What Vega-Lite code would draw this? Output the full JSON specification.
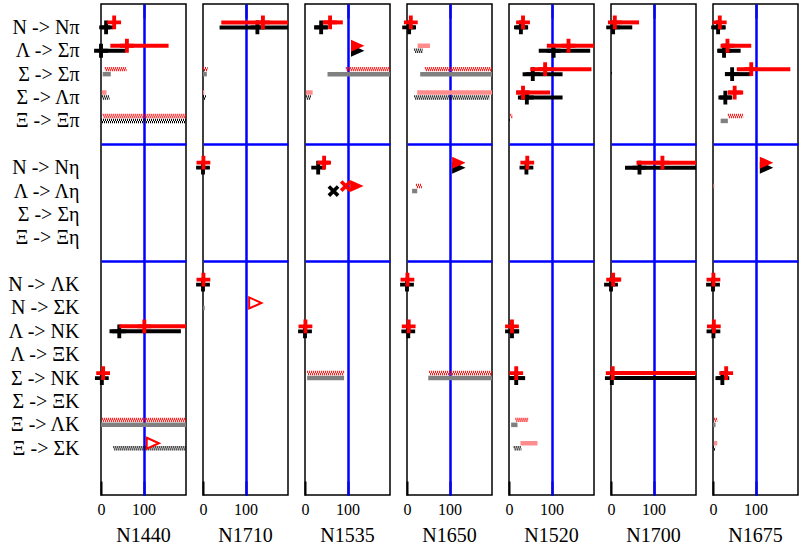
{
"$schema": "https://vega.github.io/schema/vega-lite/v6.json",
"padding": {"left": 7, "top": 3, "right": 1, "bottom": 0},
"bounds": "flush",
"data": {"values": [
{"r":"N1440","c":"N -> Nπ","s":"b","k":"bar","lo":0,"hi":22,"v":12},
{"r":"N1440","c":"N -> Nπ","s":"r","k":"pt","v":31},
{"r":"N1440","c":"Λ -> Σπ","s":"b","k":"bar","lo":0,"hi":58,"v":0},
{"r":"N1440","c":"Λ -> Σπ","s":"r","k":"bar","lo":22,"hi":159,"v":61},
{"r":"N1440","c":"Σ -> Σπ","s":"r","k":"chk","lo":9,"hi":60},
{"r":"N1440","c":"Σ -> Σπ","s":"b","k":"sol","lo":4,"hi":23},
{"r":"N1440","c":"Σ -> Λπ","s":"r","k":"sol","lo":2,"hi":13},
{"r":"N1440","c":"Σ -> Λπ","s":"b","k":"chk","lo":2,"hi":20},
{"r":"N1440","c":"Ξ -> Ξπ","s":"r","k":"chk","lo":4,"hi":200},
{"r":"N1440","c":"Ξ -> Ξπ","s":"b","k":"chk","lo":0,"hi":200},
{"r":"N1440","c":"Λ -> NK","s":"b","k":"bar","lo":20,"hi":188,"v":43},
{"r":"N1440","c":"Λ -> NK","s":"r","k":"bar","lo":43,"hi":200,"v":102},
{"r":"N1440","c":"Σ -> NK","s":"b","k":"pt","v":2},
{"r":"N1440","c":"Σ -> NK","s":"r","k":"pt","v":5},
{"r":"N1440","c":"Ξ -> ΛK","s":"r","k":"chk","lo":2,"hi":200},
{"r":"N1440","c":"Ξ -> ΛK","s":"b","k":"sol","lo":0,"hi":200},
{"r":"N1440","c":"Ξ -> ΣK","s":"b","k":"chk","lo":29,"hi":200},
{"r":"N1440","c":"Ξ -> ΣK","s":"r","k":"tro","v":122},
{"r":"N1710","c":"N -> Nπ","s":"b","k":"bar","lo":39,"hi":200,"v":128},
{"r":"N1710","c":"N -> Nπ","s":"r","k":"bar","lo":43,"hi":200,"v":141},
{"r":"N1710","c":"Σ -> Σπ","s":"r","k":"chk","lo":0,"hi":11},
{"r":"N1710","c":"Σ -> Σπ","s":"b","k":"sol","lo":0,"hi":9},
{"r":"N1710","c":"Σ -> Λπ","s":"r","k":"sol","lo":0,"hi":3},
{"r":"N1710","c":"Σ -> Λπ","s":"b","k":"chk","lo":0,"hi":7},
{"r":"N1710","c":"N -> Nη","s":"b","k":"pt","v":0},
{"r":"N1710","c":"N -> Nη","s":"r","k":"pt","v":1},
{"r":"N1710","c":"N -> ΛK","s":"b","k":"pt","v":0},
{"r":"N1710","c":"N -> ΛK","s":"r","k":"pt","v":1},
{"r":"N1710","c":"N -> ΣK","s":"b","k":"sol","lo":0,"hi":4},
{"r":"N1710","c":"N -> ΣK","s":"r","k":"tro","v":123},
{"r":"N1535","c":"N -> Nπ","s":"b","k":"bar","lo":22,"hi":53,"v":38},
{"r":"N1535","c":"N -> Nπ","s":"r","k":"bar","lo":42,"hi":89,"v":59},
{"r":"N1535","c":"Λ -> Σπ","s":"b","k":"tri","v":124},
{"r":"N1535","c":"Λ -> Σπ","s":"r","k":"tri","v":124},
{"r":"N1535","c":"Σ -> Σπ","s":"r","k":"chk","lo":96,"hi":200},
{"r":"N1535","c":"Σ -> Σπ","s":"b","k":"sol","lo":53,"hi":200},
{"r":"N1535","c":"Σ -> Λπ","s":"r","k":"sol","lo":2,"hi":18},
{"r":"N1535","c":"Σ -> Λπ","s":"b","k":"chk","lo":2,"hi":14},
{"r":"N1535","c":"N -> Nη","s":"b","k":"pt","v":31},
{"r":"N1535","c":"N -> Nη","s":"r","k":"bar","lo":36,"hi":58,"v":45},
{"r":"N1535","c":"Λ -> Λη","s":"b","k":"x","v":67},
{"r":"N1535","c":"Λ -> Λη","s":"r","k":"x","v":96},
{"r":"N1535","c":"Λ -> Λη","s":"r","k":"tri","v":122},
{"r":"N1535","c":"Λ -> NK","s":"b","k":"pt","v":0},
{"r":"N1535","c":"Λ -> NK","s":"r","k":"pt","v":1},
{"r":"N1535","c":"Σ -> NK","s":"r","k":"chk","lo":5,"hi":92},
{"r":"N1535","c":"Σ -> NK","s":"b","k":"sol","lo":5,"hi":92},
{"r":"N1650","c":"N -> Nπ","s":"b","k":"bar","lo":0,"hi":20,"v":5},
{"r":"N1650","c":"N -> Nπ","s":"r","k":"pt","v":9},
{"r":"N1650","c":"Λ -> Σπ","s":"r","k":"sol","lo":25,"hi":54},
{"r":"N1650","c":"Λ -> Σπ","s":"b","k":"chk","lo":17,"hi":37},
{"r":"N1650","c":"Σ -> Σπ","s":"r","k":"chk","lo":42,"hi":200},
{"r":"N1650","c":"Σ -> Σπ","s":"b","k":"sol","lo":31,"hi":200},
{"r":"N1650","c":"Σ -> Λπ","s":"r","k":"sol","lo":24,"hi":200},
{"r":"N1650","c":"Σ -> Λπ","s":"b","k":"chk","lo":17,"hi":194},
{"r":"N1650","c":"N -> Nη","s":"b","k":"tri","v":122},
{"r":"N1650","c":"N -> Nη","s":"r","k":"tri","v":122},
{"r":"N1650","c":"Λ -> Λη","s":"r","k":"chk","lo":21,"hi":35},
{"r":"N1650","c":"Λ -> Λη","s":"b","k":"sol","lo":12,"hi":24},
{"r":"N1650","c":"N -> ΛK","s":"b","k":"pt","v":0},
{"r":"N1650","c":"N -> ΛK","s":"r","k":"pt","v":1},
{"r":"N1650","c":"Λ -> NK","s":"b","k":"pt","v":3},
{"r":"N1650","c":"Λ -> NK","s":"r","k":"pt","v":4},
{"r":"N1650","c":"Σ -> NK","s":"r","k":"chk","lo":52,"hi":200},
{"r":"N1650","c":"Σ -> NK","s":"b","k":"sol","lo":50,"hi":200},
{"r":"N1520","c":"N -> Nπ","s":"b","k":"bar","lo":15,"hi":45,"v":28},
{"r":"N1520","c":"N -> Nπ","s":"r","k":"pt","v":33},
{"r":"N1520","c":"Λ -> Σπ","s":"b","k":"bar","lo":70,"hi":191,"v":105},
{"r":"N1520","c":"Λ -> Σπ","s":"r","k":"bar","lo":89,"hi":200,"v":140},
{"r":"N1520","c":"Σ -> Σπ","s":"b","k":"bar","lo":32,"hi":126,"v":56},
{"r":"N1520","c":"Σ -> Σπ","s":"r","k":"bar","lo":50,"hi":194,"v":85},
{"r":"N1520","c":"Σ -> Λπ","s":"b","k":"bar","lo":21,"hi":126,"v":42},
{"r":"N1520","c":"Σ -> Λπ","s":"r","k":"bar","lo":17,"hi":97,"v":33},
{"r":"N1520","c":"Ξ -> Ξπ","s":"r","k":"chk","lo":3,"hi":8},
{"r":"N1520","c":"Ξ -> Ξπ","s":"b","k":"chk","lo":0,"hi":2},
{"r":"N1520","c":"N -> Nη","s":"b","k":"pt","v":41},
{"r":"N1520","c":"N -> Nη","s":"r","k":"pt","v":43},
{"r":"N1520","c":"Λ -> NK","s":"b","k":"bar","lo":0,"hi":24,"v":7},
{"r":"N1520","c":"Λ -> NK","s":"r","k":"pt","v":7},
{"r":"N1520","c":"Σ -> NK","s":"b","k":"bar","lo":0,"hi":38,"v":17},
{"r":"N1520","c":"Σ -> NK","s":"r","k":"pt","v":17},
{"r":"N1520","c":"Ξ -> ΛK","s":"r","k":"chk","lo":15,"hi":45},
{"r":"N1520","c":"Ξ -> ΛK","s":"b","k":"sol","lo":5,"hi":20},
{"r":"N1520","c":"Ξ -> ΣK","s":"r","k":"sol","lo":27,"hi":67},
{"r":"N1520","c":"Ξ -> ΣK","s":"b","k":"chk","lo":11,"hi":29},
{"r":"N1700","c":"N -> Nπ","s":"b","k":"bar","lo":0,"hi":50,"v":5},
{"r":"N1700","c":"N -> Nπ","s":"r","k":"bar","lo":0,"hi":66,"v":9},
{"r":"N1700","c":"Σ -> Σπ","s":"b","k":"chk","lo":0,"hi":2},
{"r":"N1700","c":"N -> Nη","s":"b","k":"bar","lo":33,"hi":200,"v":67},
{"r":"N1700","c":"N -> Nη","s":"r","k":"bar","lo":60,"hi":200,"v":121},
{"r":"N1700","c":"N -> ΛK","s":"b","k":"pt","v":0},
{"r":"N1700","c":"N -> ΛK","s":"r","k":"bar","lo":0,"hi":24,"v":5},
{"r":"N1700","c":"Σ -> NK","s":"b","k":"bar","lo":0,"hi":200,"v":2},
{"r":"N1700","c":"Σ -> NK","s":"r","k":"bar","lo":0,"hi":200,"v":4},
{"r":"N1675","c":"N -> Nπ","s":"b","k":"bar","lo":0,"hi":30,"v":12},
{"r":"N1675","c":"N -> Nπ","s":"r","k":"pt","v":16},
{"r":"N1675","c":"Λ -> Σπ","s":"b","k":"bar","lo":12,"hi":65,"v":26},
{"r":"N1675","c":"Λ -> Σπ","s":"r","k":"bar","lo":22,"hi":90,"v":34},
{"r":"N1675","c":"Σ -> Σπ","s":"b","k":"bar","lo":28,"hi":90,"v":45},
{"r":"N1675","c":"Σ -> Σπ","s":"r","k":"bar","lo":56,"hi":182,"v":90},
{"r":"N1675","c":"Σ -> Λπ","s":"b","k":"bar","lo":16,"hi":43,"v":29},
{"r":"N1675","c":"Σ -> Λπ","s":"r","k":"bar","lo":35,"hi":71,"v":51},
{"r":"N1675","c":"Ξ -> Ξπ","s":"r","k":"chk","lo":35,"hi":71},
{"r":"N1675","c":"Ξ -> Ξπ","s":"b","k":"sol","lo":18,"hi":35},
{"r":"N1675","c":"N -> Nη","s":"b","k":"tri","v":126},
{"r":"N1675","c":"N -> Nη","s":"r","k":"tri","v":126},
{"r":"N1675","c":"Λ -> Λη","s":"r","k":"sol","lo":1,"hi":3},
{"r":"N1675","c":"N -> ΛK","s":"b","k":"pt","v":0},
{"r":"N1675","c":"N -> ΛK","s":"r","k":"pt","v":1},
{"r":"N1675","c":"Λ -> NK","s":"b","k":"pt","v":1},
{"r":"N1675","c":"Λ -> NK","s":"r","k":"pt","v":2},
{"r":"N1675","c":"Σ -> NK","s":"b","k":"bar","lo":8,"hi":35,"v":22},
{"r":"N1675","c":"Σ -> NK","s":"r","k":"pt","v":31},
{"r":"N1675","c":"Ξ -> ΛK","s":"r","k":"chk","lo":2,"hi":10},
{"r":"N1675","c":"Ξ -> ΛK","s":"b","k":"sol","lo":0,"hi":6},
{"r":"N1675","c":"Ξ -> ΣK","s":"r","k":"sol","lo":2,"hi":10},
{"r":"N1675","c":"Ξ -> ΣK","s":"b","k":"chk","lo":0,"hi":5}
]},
"facet": {"column": {"field": "r", "type": "nominal", "sort": ["N1440","N1710","N1535","N1650","N1520","N1700","N1675"],
  "header": {"title": null, "labelOrient": "bottom", "labelFont": "Liberation Serif", "labelFontSize": 20, "labelColor": "black", "labelPadding": 9}}},
"spacing": 17,
"spec": {
  "width": 85,
  "height": 491,
  "encoding": {
    "y": {"field": "c", "type": "nominal", "title": null,
      "scale": {"type": "point", "padding": 1, "domain": ["N -> Nπ","Λ -> Σπ","Σ -> Σπ","Σ -> Λπ","Ξ -> Ξπ","s1","N -> Nη","Λ -> Λη","Σ -> Ση","Ξ -> Ξη","s2","N -> ΛK","N -> ΣK","Λ -> NK","Λ -> ΞK","Σ -> NK","Σ -> ΞK","Ξ -> ΛK","Ξ -> ΣK","end"]},
      "axis": {"ticks": false, "domain": false, "labelFont": "Liberation Serif", "labelFontSize": 20, "labelColor": "black", "labelPadding": 22,
        "labelExpr": "datum.value == 's1' || datum.value == 's2' || datum.value == 'end' ? '' : datum.value",
        "grid": true, "gridColor": "#0000ff", "gridWidth": 2.5,
        "gridOpacity": {"condition": {"test": "datum.value == 's1' || datum.value == 's2'", "value": 1}, "value": 0}}}
  },
  "resolve": {"axis": {"x": "independent"}},
  "layer": [
    {"transform": [{"filter": "datum.s == 'b' && datum.k == 'sol'"}],
     "mark": {"type": "rule", "strokeWidth": 4.5, "color": "#808080"},
     "encoding": {
       "x": {"field": "lo", "type": "quantitative", "title": null, "scale": {"domain": [0, 200], "nice": false, "zero": false},
         "axis": {"orient": "bottom", "values": [0, 100], "labelFont": "Liberation Serif", "labelFontSize": 16, "labelColor": "black", "labelFlush": false, "domain": false,
           "tickSize": -14, "tickColor": "black", "tickWidth": 2, "labelPadding": 20,
           "grid": true, "gridColor": "#0000ff", "gridWidth": 2.5,
           "gridOpacity": {"condition": {"test": "datum.value == 100", "value": 1}, "value": 0}}},
       "x2": {"field": "hi"}}},
    {"transform": [{"filter": "datum.s == 'b' && datum.k == 'chk'"}],
     "mark": {"type": "rule", "strokeWidth": 2.25, "color": "black", "strokeDash": [1, 1], "yOffset": -1.1},
     "encoding": {
       "x": {"field": "lo", "type": "quantitative", "title": null,
         "axis": {"orient": "top", "values": [100], "labels": false, "domain": false, "grid": false, "tickSize": -14, "tickColor": "black", "tickWidth": 2}},
       "x2": {"field": "hi"}}},
    {"transform": [{"filter": "datum.s == 'b' && datum.k == 'chk'"}],
     "mark": {"type": "rule", "strokeWidth": 2.25, "color": "black", "strokeDash": [1, 1], "strokeDashOffset": 1, "yOffset": 1.1},
     "encoding": {"x": {"field": "lo", "type": "quantitative", "title": null, "axis": null}, "x2": {"field": "hi"}}},
    {"transform": [{"filter": "datum.s == 'r' && datum.k == 'sol'"}],
     "mark": {"type": "rule", "strokeWidth": 4.5, "color": "#ff8c8c", "yOffset": -5},
     "encoding": {"x": {"field": "lo", "type": "quantitative", "title": null, "axis": null}, "x2": {"field": "hi"}}},
    {"transform": [{"filter": "datum.s == 'r' && datum.k == 'chk'"}],
     "mark": {"type": "rule", "strokeWidth": 2.25, "color": "#ff0000", "strokeDash": [1, 1], "yOffset": -6.1},
     "encoding": {"x": {"field": "lo", "type": "quantitative", "title": null, "axis": null}, "x2": {"field": "hi"}}},
    {"transform": [{"filter": "datum.s == 'r' && datum.k == 'chk'"}],
     "mark": {"type": "rule", "strokeWidth": 2.25, "color": "#ff0000", "strokeDash": [1, 1], "strokeDashOffset": 1, "yOffset": -3.9},
     "encoding": {"x": {"field": "lo", "type": "quantitative", "title": null, "axis": null}, "x2": {"field": "hi"}}},
    {"transform": [{"filter": "datum.s == 'b' && datum.k == 'bar'"}],
     "mark": {"type": "rule", "strokeWidth": 4, "color": "black"},
     "encoding": {"x": {"field": "lo", "type": "quantitative", "title": null, "axis": null}, "x2": {"field": "hi"}}},
    {"transform": [{"filter": "datum.s == 'b' && (datum.k == 'bar' || datum.k == 'pt')"}],
     "mark": {"type": "point", "shape": "M-1,-0.28H1V0.28H-1Z M-0.28,-1H0.28V1H-0.28Z", "filled": true, "color": "black", "size": 190, "opacity": 1},
     "encoding": {"x": {"field": "v", "type": "quantitative", "title": null, "axis": null}}},
    {"transform": [{"filter": "datum.s == 'b' && datum.k == 'tri'"}],
     "mark": {"type": "point", "shape": "M-1,-0.9L1,0L-1,0.9Z", "filled": true, "color": "black", "size": 180, "opacity": 1},
     "encoding": {"x": {"field": "v", "type": "quantitative", "title": null, "axis": null}}},
    {"transform": [{"filter": "datum.s == 'b' && datum.k == 'x'"}],
     "mark": {"type": "point", "shape": "M-1,-0.28H1V0.28H-1Z M-0.28,-1H0.28V1H-0.28Z", "angle": 45, "filled": true, "color": "black", "size": 170, "opacity": 1},
     "encoding": {"x": {"field": "v", "type": "quantitative", "title": null, "axis": null}}},
    {"transform": [{"filter": "datum.s == 'r' && datum.k == 'bar'"}],
     "mark": {"type": "rule", "strokeWidth": 4, "color": "#ff0000", "yOffset": -5},
     "encoding": {"x": {"field": "lo", "type": "quantitative", "title": null, "axis": null}, "x2": {"field": "hi"}}},
    {"transform": [{"filter": "datum.s == 'r' && (datum.k == 'bar' || datum.k == 'pt')"}],
     "mark": {"type": "point", "shape": "M-1,-0.28H1V0.28H-1Z M-0.28,-1H0.28V1H-0.28Z", "filled": true, "color": "#ff0000", "size": 190, "opacity": 1, "yOffset": -5},
     "encoding": {"x": {"field": "v", "type": "quantitative", "title": null, "axis": null}}},
    {"transform": [{"filter": "datum.s == 'r' && datum.k == 'x'"}],
     "mark": {"type": "point", "shape": "M-1,-0.28H1V0.28H-1Z M-0.28,-1H0.28V1H-0.28Z", "angle": 45, "filled": true, "color": "#ff0000", "size": 170, "opacity": 1, "yOffset": -5},
     "encoding": {"x": {"field": "v", "type": "quantitative", "title": null, "axis": null}}},
    {"transform": [{"filter": "datum.s == 'r' && datum.k == 'tri'"}],
     "mark": {"type": "point", "shape": "M-1,-0.9L1,0L-1,0.9Z", "filled": true, "color": "#ff0000", "size": 180, "opacity": 1, "yOffset": -5},
     "encoding": {"x": {"field": "v", "type": "quantitative", "title": null, "axis": null}}},
    {"transform": [{"filter": "datum.s == 'r' && datum.k == 'tro'"}],
     "mark": {"type": "point", "shape": "M-1,-0.9L1,0L-1,0.9Z", "filled": true, "fill": "white", "stroke": "#ff0000", "strokeWidth": 2, "size": 150, "opacity": 1, "yOffset": -5},
     "encoding": {"x": {"field": "v", "type": "quantitative", "title": null, "axis": null}}}
  ]
},
"config": {"view": {"stroke": "black", "strokeWidth": 1.5}, "font": "Liberation Serif", "axis": {"labelFont": "Liberation Serif"}}
}
